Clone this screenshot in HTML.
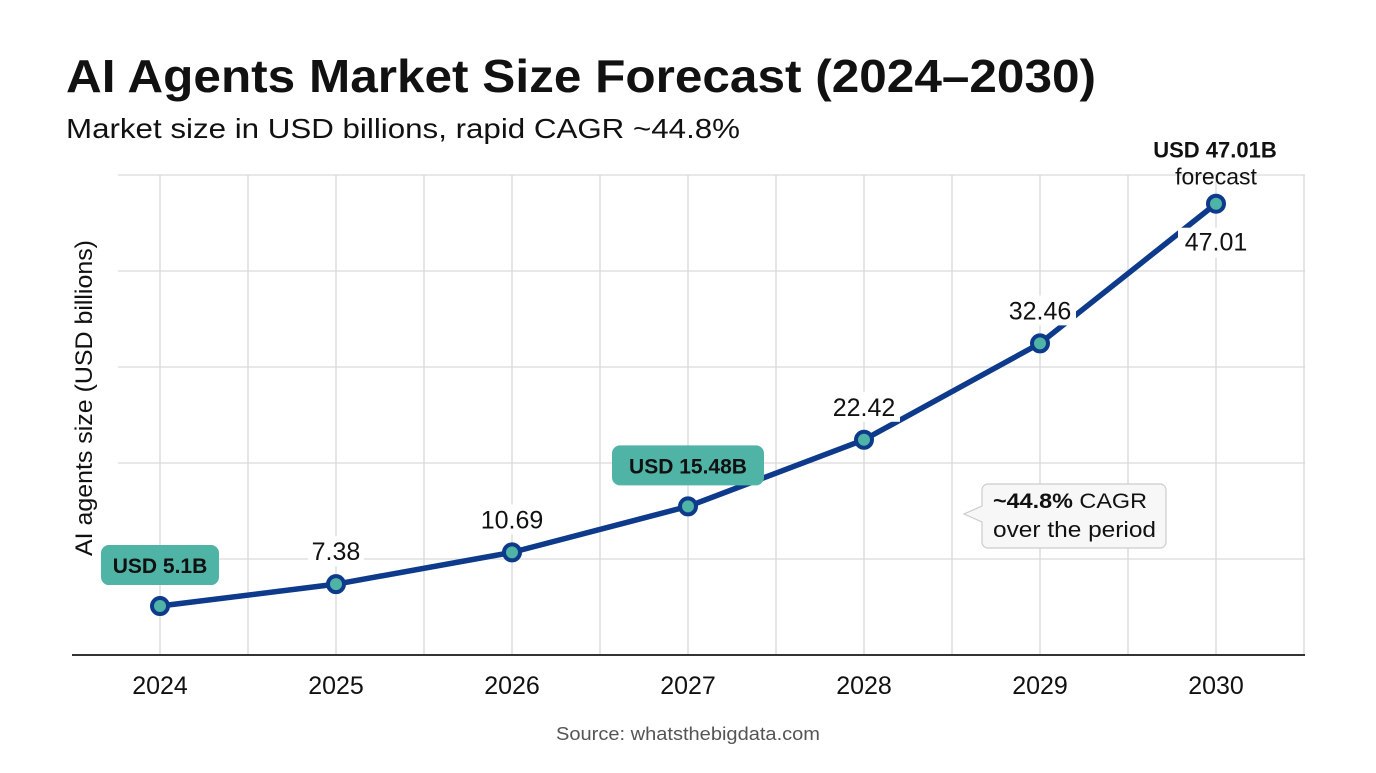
<!DOCTYPE html>
<html><head><meta charset="utf-8">
<style>
body{margin:0;background:#fff;width:1376px;height:768px;overflow:hidden;font-family:"Liberation Sans",sans-serif;}
</style></head>
<body>
<svg width="1376" height="768" xmlns="http://www.w3.org/2000/svg">
<text x="66" y="92" font-size="46" font-weight="bold" fill="#111" textLength="1030" lengthAdjust="spacingAndGlyphs">AI Agents Market Size Forecast (2024–2030)</text>
<text x="66" y="138" font-size="28" fill="#111" textLength="674" lengthAdjust="spacingAndGlyphs">Market size in USD billions, rapid CAGR ~44.8%</text>
<g id="grid"></g>
<text transform="translate(92,398) rotate(-90)" text-anchor="middle" font-size="24" fill="#111" textLength="316" lengthAdjust="spacingAndGlyphs">AI agents size (USD billions)</text>
<g id="xt"></g>
<g id="marks"></g>
<g>
<path d="M988,484 H1160 a6,6 0 0 1 6,6 V542 a6,6 0 0 1 -6,6 H988 a6,6 0 0 1 -6,-6 V522 L964,514 L982,506 V490 a6,6 0 0 1 6,-6 Z" fill="#f7f7f7" stroke="#ccc" stroke-width="1.2"/>
<text x="993" y="508" font-size="21" fill="#111" textLength="154" lengthAdjust="spacingAndGlyphs"><tspan font-weight="bold">~44.8%</tspan> CAGR</text>
<text x="993" y="537" font-size="22" fill="#111" textLength="163" lengthAdjust="spacingAndGlyphs">over the period</text>
</g>
<text x="688" y="740" text-anchor="middle" font-size="18" fill="#555" textLength="264" lengthAdjust="spacingAndGlyphs">Source: whatsthebigdata.com</text>
</svg>
<script>
const years=["2024","2025","2026","2027","2028","2029","2030"];
const values=[5.1,7.38,10.69,15.48,22.42,32.46,47.01];
const yTicks=[0,10,20,30,40,50];
const NS="http://www.w3.org/2000/svg";
const X0=160,DX=176,Y0=655,YMAX=50,PH=480;
const xs=i=>X0+i*DX;
const ys=v=>Y0-v/YMAX*PH;
function mk(tag,attrs,parent){const e=document.createElementNS(NS,tag);for(const k in attrs)e.setAttribute(k,attrs[k]);parent.appendChild(e);return e;}
const grid=document.getElementById('grid');
yTicks.forEach(t=>{if(t===0)return;const l=mk('line',{x1:118,x2:1305,y1:ys(t),y2:ys(t),stroke:'#d9d9d9','stroke-width':1.3},grid);

});
for(let k=0;k<=13;k++){const x=X0+k*DX/2;if(x>1305)break;const l=mk('line',{x1:x,x2:x,y1:ys(50),y2:Y0,stroke:'#d9d9d9','stroke-width':1.3},grid);

}
const ax=mk('line',{x1:72,x2:1305,y1:Y0,y2:Y0,stroke:'#333','stroke-width':2},grid);


const xt=document.getElementById('xt');
years.forEach((y,i)=>{const t=mk('text',{x:xs(i),y:694,'text-anchor':'middle','font-size':25,fill:'#111'},xt);t.textContent=y;

});
const m=document.getElementById('marks');
const line=mk('polyline',{points:values.map((v,i)=>xs(i)+','+ys(v)).join(' '),fill:'none',stroke:'#0d3a8a','stroke-width':5.5,'stroke-linejoin':'round'},m);


values.forEach((v,i)=>{
  const x=xs(i),y=ys(v);
  if(i>=1&&i<=5&&i!==3){
    const w=i===1?56:72;
    const r=mk('rect',{x:x-w/2,y:y-48,width:w,height:30,fill:'#fff'},m);
    
    
    const t=mk('text',{x:x,y:y-24,'text-anchor':'middle','font-size':25,fill:'#111'},m);t.textContent=v.toFixed(2);
    
    
  }
  if(i===6){
    const r=mk('rect',{x:x-38,y:y+24,width:76,height:30,fill:'#fff'},m);
    
    
    const t=mk('text',{x:x,y:y+47,'text-anchor':'middle','font-size':25,fill:'#111'},m);t.textContent=v.toFixed(2);
    
    
    const bg=mk('rect',{x:x-88,y:y-66,width:176,height:34,fill:'#fff'},m);
    
    
    const a=mk('text',{x:x-1,y:y-46,'text-anchor':'middle','font-size':22,'font-weight':'bold',fill:'#111'},m);a.textContent='USD '+v+'B';
    
    
    const b=mk('text',{x:x,y:y-19,'text-anchor':'middle','font-size':23,fill:'#111'},m);b.textContent='forecast';
    
    
  }
  if(i===0||i===3){
    const txt='USD '+v+'B';const w=i===0?118:152;
    const r=mk('rect',{x:x-w/2,y:y-61,width:w,height:40,rx:8,fill:'#4fb3a5'},m);
    
    
    const t=mk('text',{x:x,y:y-33,'text-anchor':'middle','font-size':21,'font-weight':'bold',fill:'#111'},m);t.textContent=txt;
    
    
  }
});
values.forEach((v,i)=>{const c=mk('circle',{cx:xs(i),cy:ys(v),r:8,fill:'#4fb3a5',stroke:'#0d3a8a','stroke-width':4},m);

});
</script>
</body></html>
